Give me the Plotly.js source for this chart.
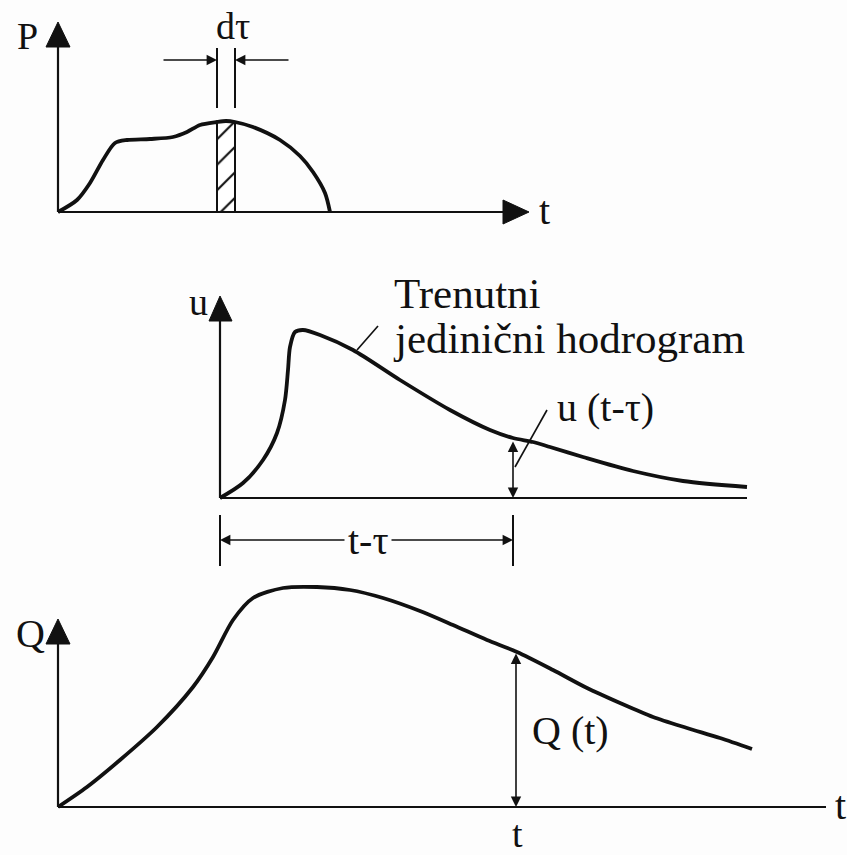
<!DOCTYPE html>
<html>
<head>
<meta charset="utf-8">
<script src="https://cdn.plot.ly/plotly-3.0.1.min.js"></script>
<style>html,body{margin:0;padding:0;background:#fff;}#chart{width:847px;height:855px;}</style>
</head>
<body>
<div id="chart"></div>
<script>
// Rainfall hyetograph P(t)  (t, P), in drawing units
const P_t = [58, 77, 90, 103, 115, 127, 150, 173, 187, 200, 217, 226, 235, 253, 280, 300, 313, 325, 330];
const P_v = [212, 200, 183, 160, 143, 140, 139, 137, 132, 125, 122, 121, 122, 127, 140, 156, 172, 193, 212];
// Hatched strip dτ
const strip_t = [217, 217, 235, 235, 217];
const strip_v = [212, 122, 122, 212, 212];
// Instantaneous unit hydrograph u(t)
const u_t = [220, 243, 263, 277, 285, 288, 290, 295, 303, 320, 353, 400, 450, 490, 513, 533, 550, 583, 633, 683, 747];
const u_v = [498, 483, 460, 433, 400, 370, 347, 332, 330, 335, 350, 380, 410, 430, 438, 442, 447, 457, 471, 481, 487];
// Runoff hydrograph Q(t)
const Q_t = [58, 87, 120, 157, 193, 213, 233, 253, 283, 317, 350, 383, 420, 453, 487, 517, 553, 587, 620, 653, 687, 720, 752];
const Q_v = [807, 787, 760, 727, 687, 657, 620, 598, 588, 587, 590, 598, 611, 625, 640, 652, 670, 688, 703, 717, 728, 738, 749];
// Labels
const labels = {
  P: "P", dtau: "dτ", t: "t", u: "u", Q: "Q",
  iuh1: "Trenutni", iuh2: "jedinični hodrogram",
  utau: "u (t-τ)", ttau: "t-τ", Qt: "Q (t)"
};

const INK = '#111';
const FONT = 'Liberation Serif, Times New Roman, serif';

const traces = [
  {x: strip_t, y: strip_v, mode: 'lines', fill: 'toself', fillcolor: 'white',
   fillpattern: {shape: '/', size: 18, solidity: 0.12, fgcolor: INK, bgcolor: 'white'},
   line: {color: INK, width: 2}, hoverinfo: 'skip'},
  {x: P_t, y: P_v, mode: 'lines', line: {color: INK, width: 3.8, shape: 'spline', smoothing: 0.8}, hoverinfo: 'skip'},
  {x: u_t, y: u_v, mode: 'lines', line: {color: INK, width: 3.8, shape: 'spline', smoothing: 0.8}, hoverinfo: 'skip'},
  {x: Q_t, y: Q_v, mode: 'lines', line: {color: INK, width: 3.8, shape: 'spline', smoothing: 0.8}, hoverinfo: 'skip'}
];

function line(x0, y0, x1, y1, w) {
  return {type: 'line', xref: 'x', yref: 'y', x0: x0, y0: y0, x1: x1, y1: y1,
          line: {color: INK, width: w || 2.2}};
}
function tri(pts) {
  return {type: 'path', xref: 'x', yref: 'y',
          path: 'M' + pts.map(p => p[0] + ',' + p[1]).join(' L') + ' Z',
          fillcolor: INK, line: {color: INK, width: 1}};
}

const shapes = [
  // P panel axes
  line(58, 212, 58, 46), tri([[46, 47], [70, 47], [58, 22]]),
  line(58, 212, 505, 212), tri([[503, 200], [503, 224], [529, 212]]),
  // dτ extension lines
  line(217, 48, 217, 108, 2), line(235, 48, 235, 108, 2),
  // u panel axes
  line(220, 498, 220, 320), tri([[209, 321], [232, 321], [220, 296]]),
  line(220, 498, 747, 498),
  // t-τ extension lines
  line(220, 515, 220, 566, 2), line(513, 515, 513, 566, 2),
  // leader lines
  line(357, 350, 378, 326, 1.6), line(515, 467, 547, 410, 1.6),
  // Q panel axes
  line(58, 807, 58, 643), tri([[46, 644], [70, 644], [58, 619]]),
  line(58, 807, 826, 807)
];

function arrow(x, y, ax, ay, both) {
  const a = {x: x, y: y, ax: ax, ay: ay, xref: 'x', yref: 'y', axref: 'x', ayref: 'y',
    text: '', showarrow: true, arrowhead: 2, arrowsize: 1.3, arrowwidth: 1.6, arrowcolor: INK};
  if (both) { a.arrowside = 'end+start'; a.startarrowhead = 2; a.startarrowsize = 1.3; }
  return a;
}
function txt(x, y, s, size, anchor) {
  return {x: x, y: y, xref: 'x', yref: 'y', text: s, showarrow: false,
    xanchor: anchor || 'center', yanchor: 'middle',
    font: {family: FONT, size: size || 40, color: INK}};
}

const annotations = [
  arrow(217, 60, 162, 60), arrow(235, 60, 290, 60),
  arrow(220, 540, 346, 540), arrow(513, 540, 390, 540),
  arrow(513, 498, 513, 440, true),
  arrow(516, 807, 516, 652, true),
  txt(27, 36, labels.P, 38),
  txt(233, 26, labels.dtau, 38),
  txt(544, 210, labels.t, 40),
  txt(198, 302, labels.u, 38),
  txt(392, 293, labels.iuh1, 43, 'left'),
  txt(391, 338, labels.iuh2, 43, 'left'),
  txt(605, 407, labels.utau, 40),
  txt(368, 540, labels.ttau, 40),
  txt(30, 633, labels.Q, 40),
  txt(570, 730, labels.Qt, 40),
  txt(840, 805, labels.t, 40),
  txt(517, 834, labels.t, 38)
];

const layout = {
  width: 847, height: 855,
  margin: {l: 0, r: 0, t: 0, b: 0},
  paper_bgcolor: '#fdfdfd', plot_bgcolor: '#fdfdfd',
  showlegend: false,
  xaxis: {range: [0, 847], visible: false, fixedrange: true},
  yaxis: {range: [855, 0], visible: false, fixedrange: true},
  shapes: shapes,
  annotations: annotations
};

Plotly.newPlot('chart', traces, layout, {displayModeBar: false, staticPlot: true});
</script>
</body>
</html>
